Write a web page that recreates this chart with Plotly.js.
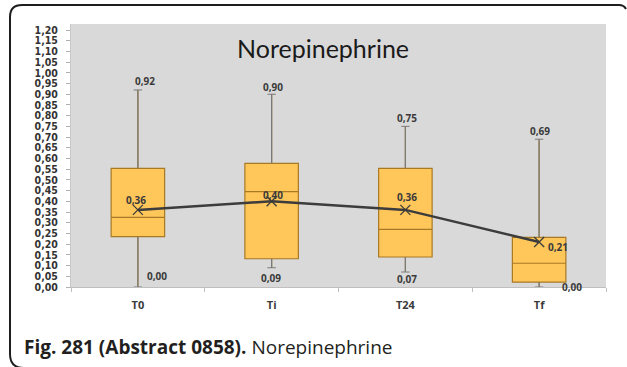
<!DOCTYPE html>
<html>
<head>
<meta charset="utf-8">
<script src="https://cdn.plot.ly/plotly-3.0.1.min.js"></script>
<style>
  html, body { margin: 0; padding: 0; background: #ffffff; overflow: hidden; }
  #wrap { position: relative; width: 627px; height: 367px; overflow: hidden; }
  #chart { position: absolute; left: 0; top: 0; width: 627px; height: 367px; }
  #frame { position: absolute; left: 0; top: 0; width: 627px; height: 367px; pointer-events: none; }
</style>
</head>
<body>
<div id="wrap">
  <div id="chart"></div>
  <svg id="frame" width="627" height="367" xmlns="http://www.w3.org/2000/svg">
    <path d="M 24 368 Q 10 368 10 354 L 10 17 Q 10 5 22 5 L 619 5 Q 624 5 626 9"
          fill="none" stroke="#1e1e1e" stroke-width="2"/>
  </svg>
</div>
<script>
// ---- data ----
const categories = ['T0', 'Ti', 'T24', 'Tf'];
const maxVals    = [0.92, 0.90, 0.75, 0.69];
const q3Vals     = [0.554, 0.577, 0.554, 0.232];
const medianVals = [0.325, 0.445, 0.269, 0.111];
const q1Vals     = [0.235, 0.132, 0.140, 0.023];
const minVals    = [0.00, 0.09, 0.07, 0.00];
const meanVals   = [0.36, 0.40, 0.36, 0.21];
const chartTitle = 'Norepinephrine';
const captionBold = 'Fig. 281 (Abstract 0858).';
const captionText = 'Norepinephrine';

// ---- label placement (pixel offsets, styling only) ----
const maxOffsets  = [[7, 9], [1, 7], [2, 8], [1, 8]];
const meanOffsets = [[-2, 10], [1, 6], [2, 13], [19, -5]];
const minOffsets  = [[19, 11], [-1, -10], [2, -7], [33, 0]];

const boxFill = '#ffc65a';
const boxLine = '#a97a25';
const whiskerColor = '#7a7a7a';
const meanColor = '#3c3c3c';
const labelFont = {family: 'Open Sans, sans-serif', size: 10, color: '#3a3a3a', weight: 700};

const fmt = v => v.toFixed(2).replace('.', ',');

const traces = [
  {
    type: 'box',
    x: categories,
    q1: q1Vals,
    median: medianVals,
    q3: q3Vals,
    lowerfence: minVals,
    upperfence: maxVals,
    width: 0.4,
    whiskerwidth: 0,
    fillcolor: boxFill,
    line: {color: boxLine, width: 1.2},
    hoverinfo: 'skip',
    showlegend: false
  },
  // upper whiskers (grey) drawn over the box whiskers
  {
    type: 'scatter',
    mode: 'markers',
    x: categories,
    y: maxVals,
    marker: {symbol: 'line-ew', size: 6, color: whiskerColor, line: {color: whiskerColor, width: 1}},
    error_y: {type: 'data', symmetric: false, array: maxVals.map(() => 0),
              arrayminus: maxVals.map((v, i) => v - q3Vals[i]), width: 0, thickness: 1.2, color: whiskerColor},
    hoverinfo: 'skip',
    showlegend: false
  },
  // lower whiskers
  {
    type: 'scatter',
    mode: 'markers',
    x: categories,
    y: minVals,
    marker: {symbol: 'line-ew', size: 6, color: whiskerColor, line: {color: whiskerColor, width: 1}},
    error_y: {type: 'data', symmetric: false, arrayminus: minVals.map(() => 0),
              array: minVals.map((v, i) => q1Vals[i] - v), width: 0, thickness: 1.2, color: whiskerColor},
    hoverinfo: 'skip',
    showlegend: false
  },
  // mean line
  {
    type: 'scatter',
    mode: 'lines+markers',
    x: categories,
    y: meanVals,
    line: {color: meanColor, width: 2.5},
    marker: {symbol: 'x-thin-open', size: 10, color: meanColor, line: {color: meanColor, width: 1.3}},
    hoverinfo: 'skip',
    showlegend: false
  }
];

const annotations = [];
categories.forEach((c, i) => {
  annotations.push({x: c, y: maxVals[i], text: fmt(maxVals[i]), showarrow: false,
    xanchor: 'center', yanchor: 'middle', xshift: maxOffsets[i][0], yshift: maxOffsets[i][1], font: labelFont});
  annotations.push({x: c, y: meanVals[i], text: fmt(meanVals[i]), showarrow: false,
    xanchor: 'center', yanchor: 'middle', xshift: meanOffsets[i][0], yshift: meanOffsets[i][1], font: labelFont});
  annotations.push({x: c, y: minVals[i], text: fmt(minVals[i]), showarrow: false,
    xanchor: 'center', yanchor: 'middle', xshift: minOffsets[i][0], yshift: minOffsets[i][1], font: labelFont});
});
annotations.push({xref: 'paper', yref: 'paper', x: 0.471, y: 0.909, text: chartTitle, showarrow: false,
  xanchor: 'center', yanchor: 'middle', font: {family: 'Lato, sans-serif', size: 25, color: '#1a1a1a'}});
annotations.push({xref: 'paper', yref: 'paper', x: -0.0916, y: -0.228,
  text: '<b>' + captionBold + '</b> ' + captionText, showarrow: false,
  xanchor: 'left', yanchor: 'middle', font: {family: 'Open Sans, sans-serif', size: 19, color: '#231f20'}});

const layout = {
  width: 627,
  height: 367,
  margin: {l: 71, r: 21, t: 24, b: 80, pad: 0},
  paper_bgcolor: '#ffffff',
  plot_bgcolor: '#d9d9d9',
  separators: ',.',
  showlegend: false,
  xaxis: {
    type: 'category',
    categoryorder: 'array',
    categoryarray: categories,
    range: [-0.5, 3.5],
    showgrid: false,
    zeroline: false,
    showline: true,
    linecolor: '#bfbfbf',
    linewidth: 1,
    ticks: 'outside',
    tickson: 'boundaries',
    ticklen: 4,
    tickcolor: '#bfbfbf',
    ticklabelstandoff: 8,
    tickfont: {family: 'Open Sans, sans-serif', size: 11, color: '#3a3a3a', weight: 700},
    automargin: false
  },
  yaxis: {
    range: [0, 1.228],
    tick0: 0,
    dtick: 0.05,
    tickformat: '.2f',
    showgrid: false,
    zeroline: false,
    showline: true,
    linecolor: '#c8c8c8',
    linewidth: 1,
    ticks: 'outside',
    ticklen: 4,
    tickcolor: '#b0b0b0',
    ticklabelstandoff: 6,
    tickfont: {family: 'DejaVu Sans Condensed, sans-serif', size: 10.5, color: '#333333', weight: 700},
    automargin: false
  },
  annotations: annotations
};

Plotly.newPlot('chart', traces, layout, {staticPlot: true, displayModeBar: false});
</script>
</body>
</html>
